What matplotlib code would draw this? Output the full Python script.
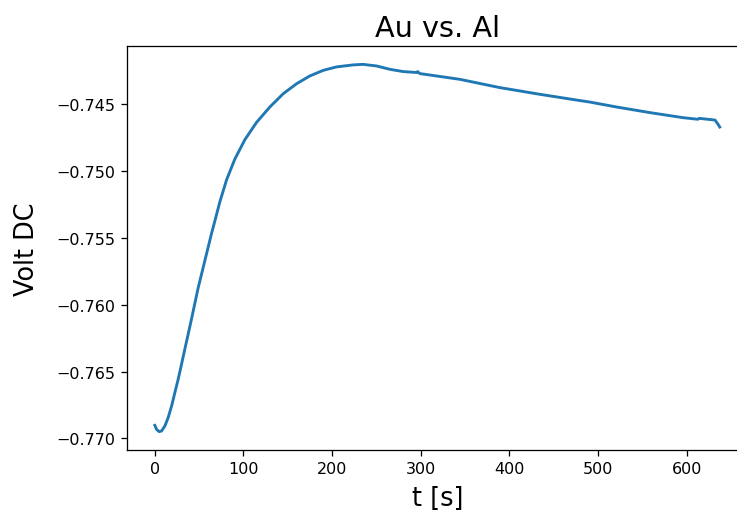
import numpy as np
import matplotlib
matplotlib.use("Agg")
import matplotlib.pyplot as plt

# values
t = [0.2, 2.1, 5.1, 7.8, 11.5, 15.2, 19.1, 22.8, 26.5, 30.3, 34.0, 37.8,
     41.6, 45.3, 49.0, 52.9, 56.6, 60.3, 64.0, 68.0, 73.5, 81.1, 90.4,
     101.7, 114.9, 129.9, 144.9, 160.0, 174.9, 190.0, 205.1, 223.8, 235.1,
     250.2, 265.2, 280.2, 295.3, 296.5, 299.0, 344.1, 389.2, 434.3, 475.6,
     490.6, 520.7, 558.3, 595.8, 612.5, 614.0, 631.9, 635.3, 637.2]
volt = [-0.76903, -0.76933, -0.76950, -0.76945, -0.76908, -0.76845, -0.76758,
        -0.76657, -0.76558, -0.76445, -0.76333, -0.76220, -0.76105, -0.75990,
        -0.75875, -0.75770, -0.75670, -0.75570, -0.75470, -0.75370, -0.75230,
        -0.75065, -0.74910, -0.74765, -0.74635, -0.74520, -0.74421, -0.74346,
        -0.74288, -0.74246, -0.74220, -0.74205, -0.74201, -0.74213, -0.74238,
        -0.74255, -0.74262, -0.74255, -0.74270, -0.74313, -0.74375, -0.74425,
        -0.74468, -0.74483, -0.74520, -0.74562, -0.74600, -0.74612, -0.74605,
        -0.74618, -0.74650, -0.74670]

fig = plt.figure(figsize=(737 / 115, 511 / 115), dpi=115)
ax = fig.add_axes([126.6 / 737, 60 / 511, 621.4 / 737, 404 / 511])
ax.plot(t, volt, color="tab:blue", linewidth=1.8)
ax.set_title("Au vs. Al", fontsize=18)
ax.set_xlabel("t [s]", fontsize=16, labelpad=5.5)
ax.set_ylabel("Volt DC", fontsize=16, labelpad=10)
ax.tick_params(labelsize=10)
ax.set_xticks([0, 100, 200, 300, 400, 500, 600])
ax.set_yticks([-0.770, -0.765, -0.760, -0.755, -0.750, -0.745])

fig.savefig("out.png", dpi=115)
